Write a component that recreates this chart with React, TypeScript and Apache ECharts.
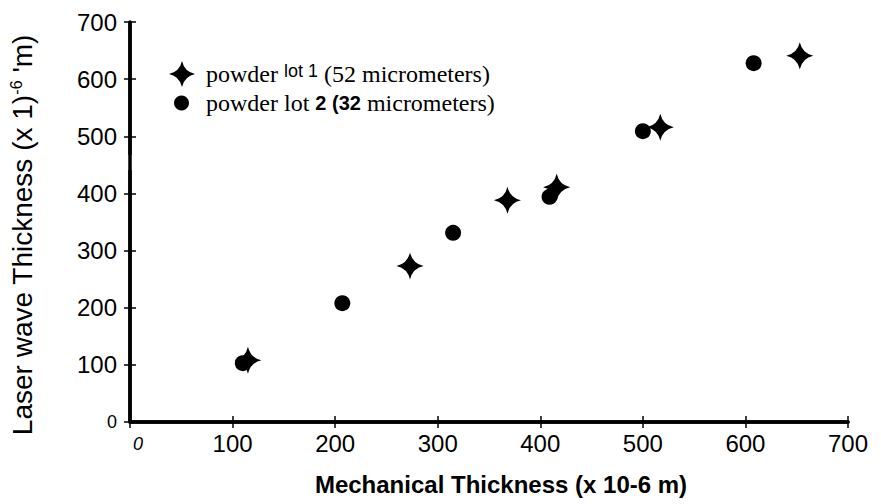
import React, { useEffect, useRef } from 'react';
import * as echarts from 'echarts';

// Data
const lot1X = [115, 273, 368, 416, 517, 653];
const lot1Y = [108, 273, 388, 411, 516, 641];
const lot2X = [110, 207, 315, 409, 500, 608];
const lot2Y = [103, 208, 331, 394, 509, 628];
const seriesNames = ['powder lot 1 (52 micrometers)', 'powder lot 2 (32 micrometers)'];
const axisMin = 0;
const axisMax = 700;
const tickStep = 100;
const yBreak = [441, 467]; // gap in the left axis line

const STAR = 'path://M12 0 Q14.2 9.8 24 12 Q14.2 14.2 12 24 Q9.8 14.2 0 12 Q9.8 9.8 12 0 Z';
const SANS = 'Liberation Sans, Arial, sans-serif';
const SERIF = 'Liberation Serif, Times New Roman, serif';

export default function App() {
  const ref = useRef<HTMLDivElement>(null);
  useEffect(() => {
    if (!ref.current) return;
    const chart = echarts.init(ref.current, null, { renderer: 'svg' });
    const pairs = (xs: number[], ys: number[]) => xs.map((x, i) => [x, ys[i]]);
    const frame = () => ({ show: true, lineStyle: { color: '#000', width: 3.5, opacity: 1 } });
    const ticksIn = () => ({ show: true, inside: true, length: 6, lineStyle: { color: '#000', width: 1.5 } });
    const tickLabel = {
      color: '#000', fontFamily: SANS, fontSize: 24,
    };
    chart.setOption({
      animation: false,
      backgroundColor: '#fff',
      grid: { left: 130, right: 33, top: 22, bottom: 82 },
      legend: [
        {
          data: [{ name: seriesNames[0], icon: STAR }],
          orient: 'vertical', left: 164, top: 56, itemWidth: 26, itemHeight: 26,
          formatter: () => '{a|powder }{b|lot 1}{a| (52 micrometers)}',
          textStyle: {
            color: '#000', padding: [0, 0, 0, 6],
            rich: {
              a: { fontFamily: SERIF, fontSize: 24, color: '#000' },
              b: { fontFamily: SANS, fontSize: 18, color: '#000', verticalAlign: 'top', padding: [0, 0, 6, 0] },
            },
          },
        },
        {
          data: [{ name: seriesNames[1], icon: 'circle' }],
          orient: 'vertical', left: 169, top: 86, itemWidth: 15, itemHeight: 15,
          formatter: () => '{a|powder lot }{c|2 (32}{a| micrometers)}',
          textStyle: {
            color: '#000', padding: [0, 0, 0, 12],
            rich: {
              a: { fontFamily: SERIF, fontSize: 24, color: '#000' },
              c: { fontFamily: SANS, fontSize: 20, fontWeight: 'bold', color: '#000' },
            },
          },
        },
      ],
      xAxis: [
        {
          type: 'value', min: axisMin, max: axisMax, interval: tickStep,
          position: 'bottom',
          axisLine: frame(), axisTick: ticksIn(), splitLine: { show: false },
          axisLabel: {
            ...tickLabel, margin: 9,
            formatter: (v: number) => (v === 0 ? '{z|0}' : String(v)),
            rich: { z: { fontFamily: SANS, fontSize: 18, fontStyle: 'italic', color: '#000', padding: [4, 0, 0, 16] } },
          },
          name: 'Mechanical Thickness (x 10-6 m)',
          nameLocation: 'middle', nameGap: 50,
          nameTextStyle: { fontFamily: SANS, fontSize: 24, fontWeight: 'bold', color: '#000', padding: [0, 0, 0, 24] },
        },
        {
          type: 'value', min: axisMin, max: axisMax, interval: tickStep,
          position: 'top',
          axisLine: frame(), axisTick: ticksIn(), axisLabel: { show: false }, splitLine: { show: false },
        },
      ],
      yAxis: [
        {
          type: 'value', min: axisMin, max: axisMax, interval: tickStep,
          position: 'left',
          axisLine: { show: false }, axisTick: ticksIn(), splitLine: { show: false },
          axisLabel: {
            ...tickLabel, margin: 13,
            formatter: (v: number) => (v === 0 ? '{z|0}' : String(v)),
            rich: { z: { fontFamily: SANS, fontSize: 18, color: '#000' } },
          },
          name: '{a|Laser wave Thickness (x 1)}{s|-6}{a| \'m)}',
          nameLocation: 'middle', nameGap: 94, nameRotate: 90,
          nameTextStyle: {
            padding: [0, 26, 0, 0],
            rich: {
              a: { fontFamily: SANS, fontSize: 28, color: '#000' },
              s: { fontFamily: SANS, fontSize: 16, color: '#000', verticalAlign: 'top', padding: [0, 0, 10, 0] },
            },
          },
        },
        {
          type: 'value', min: axisMin, max: axisMax, interval: tickStep,
          position: 'right',
          axisLine: frame(), axisTick: ticksIn(), axisLabel: { show: false }, splitLine: { show: false },
        },
      ],
      series: [
        {
          type: 'line', silent: true, clip: false, symbol: 'none',
          data: [[axisMin, axisMin], [axisMin, yBreak[0]]],
          lineStyle: { color: '#000', width: 3.5, opacity: 1 }, z: 1,
        },
        {
          type: 'line', silent: true, clip: false, symbol: 'none',
          data: [[axisMin, yBreak[1]], [axisMin, axisMax]],
          lineStyle: { color: '#000', width: 3.5, opacity: 1 }, z: 1,
        },
        {
          name: seriesNames[1], type: 'scatter', symbol: 'circle', symbolSize: 16,
          itemStyle: { color: '#000', opacity: 1 }, data: pairs(lot2X, lot2Y), z: 3,
        },
        {
          name: seriesNames[0], type: 'scatter', symbol: STAR, symbolSize: 27,
          itemStyle: { color: '#000', opacity: 1 }, data: pairs(lot1X, lot1Y), z: 4,
        },
      ],
    });
    return () => chart.dispose();
  }, []);
  return <div ref={ref} style={{ width: 881, height: 504, position: 'absolute', left: 0, top: 0 }} />;
}
